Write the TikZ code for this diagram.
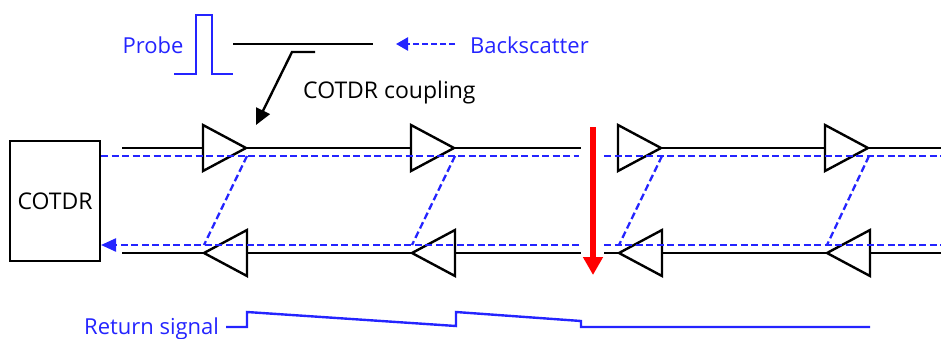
\documentclass[tikz,border=0pt]{standalone}
\usepackage{fontspec}
\setmainfont{Open Sans}
\usetikzlibrary{arrows.meta, shapes.geometric}
\definecolor{sigblue}{RGB}{36,36,255}
\tikzset{
    fibra/.style={line width=2.4pt, black},
    retorno/.style={line width=2.3pt, sigblue, dash pattern=on 7pt off 3.5pt},
    senal/.style={line width=2.4pt, sigblue},
    etiqueta/.style={inner sep=0pt, font=\fontsize{22}{26}\selectfont},
    amplif/.style={draw, line width=2.4pt, fill=white, isosceles triangle, isosceles triangle stretches, minimum width=46pt, minimum height=43pt, inner sep=0pt, outer sep=0pt},
}

\begin{document}
\begin{tikzpicture}[x=1pt, y=-1pt]
\useasboundingbox (0,0) rectangle (941,338);

% Caja de la izquierda
\node[draw, line width=2.4pt, minimum width=90pt, minimum height=120pt, inner sep=0pt, outer sep=0pt, etiqueta, font=\fontsize{23}{27}\selectfont] (cotdr) at (55,201) {COTDR};

% Extremos libres de las fibras
\coordinate (ini1) at (122,148);
\coordinate (ini2) at (122,253);
\coordinate (cut1a) at (581,148);
\coordinate (cut1b) at (632,148);
\coordinate (cut2a) at (581,253);
\coordinate (cut2b) at (604,253);
\coordinate (fin1) at (941,148);
\coordinate (fin2) at (941,253);

% Fibras
\draw[fibra] (ini1) -- (cut1a);
\draw[fibra] (cut1b) -- (fin1);
\draw[fibra] (ini2) -- (cut2a);
\draw[fibra] (cut2b) -- (fin2);

% Amplificadores: superior, inferior y lazo de retorno
\foreach \n/\x/\y in {a/246/247, b/454/455, c/661/662, d/868/870} {
    \node[amplif, anchor=apex] (sup\n) at (\x,148) {};
    \node[amplif, shape border rotate=180, anchor=lower side] (inf\n) at (\y,253) {};
    \coordinate (lazo\n) at (\x+1,156);
    \coordinate (baj\n) at (inf\n.apex |- 0,245);
    \draw[retorno] (lazo\n) -- (baj\n);
}

% Lineas de retorno
\coordinate (ret1a) at (579,156);
\coordinate (ret1b) at (604,156);
\coordinate (fin3) at (941,156);
\coordinate (ret2a) at (579,245);
\coordinate (ret2b) at (604,245);
\coordinate (fin4) at (941,245);
\coordinate (llega) at (101,245);
\coordinate (sale) at (101,156);
\draw[retorno] (sale) -- (ret1a);
\draw[retorno] (ret1b) -- (fin3);
\draw[retorno, -{Triangle[length=15pt, width=13pt]}] (ret2a) -- (llega);
\draw[retorno] (ret2b) -- (fin4);

% Corte de la fibra
\coordinate (corte1) at (593,127);
\coordinate (corte2) at (593,275);
\draw[line width=6pt, red, -{Triangle[length=18pt, width=19pt]}] (corte1) -- (corte2);

% Pulso de prueba
\node[etiqueta, text=sigblue] (probe) at (153,45) {Probe};
\coordinate (pul0) at (174,74);
\coordinate (pul1) at (196,74);
\coordinate (pul2) at (196,15);
\coordinate (pul3) at (212,15);
\coordinate (pul4) at (212,74);
\coordinate (pul5) at (233,74);
\draw[senal] (pul0) -- (pul1) -- (pul2) -- (pul3) -- (pul4) -- (pul5);

% Acoplador
\coordinate (aco1) at (233,44);
\coordinate (aco2) at (373,44);
\coordinate (aco3) at (315,52);
\coordinate (aco4) at (292,52);
\coordinate (aco5) at (256,125);
\draw[fibra] (aco1) -- (aco2);
\draw[fibra, -{Triangle[length=16pt, width=15pt]}] (aco3) -- (aco4) -- (aco5);
\node[etiqueta, anchor=west, font=\fontsize{23}{27}\selectfont] (acotxt) at (303,93) {COTDR coupling};

% Backscatter
\node[etiqueta, anchor=west, text=sigblue] (back) at (470,45) {Backscatter};
\coordinate (bac1) at (455,44);
\coordinate (bac2) at (396,44);
\draw[senal, dash pattern=on 6pt off 3pt, -{Triangle[length=12pt, width=13pt]}] (bac1) -- (bac2);

% Senal de retorno
\node[etiqueta, anchor=west, text=sigblue] (rsig) at (84,328.5) {Return signal};
\coordinate (s0) at (226,327);
\coordinate (s1) at (247,327);
\coordinate (s2) at (247,312);
\coordinate (s3) at (456,326);
\coordinate (s4) at (456,312);
\coordinate (s5) at (581,321);
\coordinate (s6) at (581,327);
\coordinate (s7) at (870,327);
\draw[senal] (s0) -- (s1) -- (s2) -- (s3) -- (s4) -- (s5) -- (s6) -- (s7);

\end{tikzpicture}
\end{document}
